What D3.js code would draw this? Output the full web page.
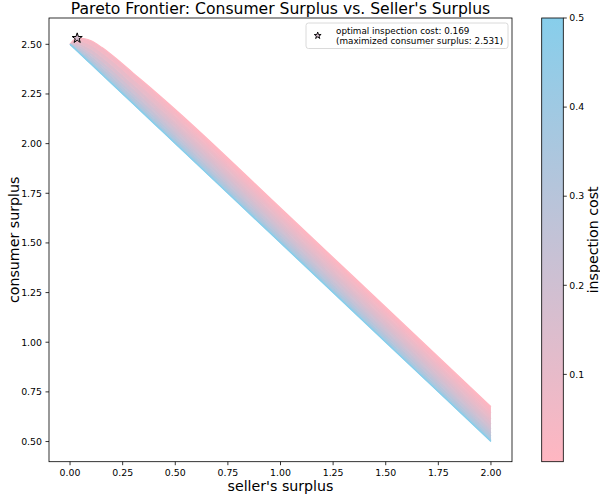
<!DOCTYPE html>
<html><head><meta charset="utf-8">
<script src="https://cdn.jsdelivr.net/npm/d3@7"></script>
<style>body{margin:0;background:#fff} svg{font-family:"DejaVu Sans",sans-serif}</style>
</head><body><svg id="c" width="600" height="501"></svg>
<script>
// ---- data ----
const sellerSurplus = [0, 0.02, 0.04, 0.07, 0.1, 0.15, 0.2, 0.3, 0.4, 0.5, 1.0, 1.5, 2.0];
const inspectionCosts = [0.002, 0.05, 0.1, 0.15, 0.2, 0.25, 0.3, 0.35, 0.4, 0.45, 0.5];
const consumerSurplus = [
  [2.500, 2.524, 2.531, 2.528, 2.518, 2.485, 2.445, 2.355, 2.265, 2.172, 1.676, 1.176, 0.676],
  [2.500, 2.516, 2.518, 2.510, 2.496, 2.460, 2.418, 2.327, 2.235, 2.140, 1.644, 1.144, 0.644],
  [2.500, 2.508, 2.506, 2.493, 2.476, 2.437, 2.394, 2.300, 2.206, 2.111, 1.614, 1.114, 0.614],
  [2.500, 2.502, 2.495, 2.478, 2.458, 2.417, 2.372, 2.277, 2.182, 2.085, 1.587, 1.087, 0.587],
  [2.500, 2.496, 2.486, 2.466, 2.443, 2.399, 2.353, 2.256, 2.160, 2.062, 1.564, 1.064, 0.564],
  [2.500, 2.491, 2.478, 2.455, 2.430, 2.384, 2.337, 2.239, 2.142, 2.043, 1.544, 1.044, 0.544],
  [2.500, 2.487, 2.472, 2.446, 2.419, 2.372, 2.323, 2.225, 2.127, 2.028, 1.528, 1.028, 0.528],
  [2.500, 2.484, 2.466, 2.439, 2.411, 2.362, 2.313, 2.214, 2.115, 2.016, 1.516, 1.016, 0.516],
  [2.500, 2.482, 2.463, 2.434, 2.405, 2.355, 2.306, 2.206, 2.107, 2.007, 1.507, 1.007, 0.507],
  [2.500, 2.480, 2.461, 2.431, 2.401, 2.351, 2.301, 2.202, 2.102, 2.002, 1.502, 1.002, 0.502],
  [2.500, 2.480, 2.460, 2.430, 2.400, 2.350, 2.300, 2.200, 2.100, 2.000, 1.500, 1.000, 0.500]
];
const optimalCost = 0.169;
const optimalSeller = 0.034;
const optimalConsumer = 2.531;
const xTicks = [0, 0.25, 0.5, 0.75, 1.0, 1.25, 1.5, 1.75, 2.0];
const yTicks = [0.5, 0.75, 1.0, 1.25, 1.5, 1.75, 2.0, 2.25, 2.5];
const cbTicks = [0.1, 0.2, 0.3, 0.4, 0.5];
const costMin = 0.002, costMax = 0.5;

// ---- layout ----
const L = 49, R = 512, T = 18, B = 461.7;
const svg = d3.select("#c");
const defs = svg.append("defs");

const xMin = d3.min(sellerSurplus), xMax = d3.max(sellerSurplus);
const yMin = d3.min(consumerSurplus.flat()), yMax = d3.max(consumerSurplus.flat());
const xp = (xMax - xMin) * 0.05, yp = (yMax - yMin) * 0.05;
const x = d3.scaleLinear().domain([xMin - xp, xMax + xp]).range([L, R]);
const y = d3.scaleLinear().domain([yMin - yp, yMax + yp]).range([B, T]);
const interp = d3.interpolateRgb("#FFB6C1", "#87CEEB");
const cNorm = d3.scaleLinear().domain([costMin, costMax]).range([0, 1]);
const color = c => interp(cNorm(c));

const clip = defs.append("clipPath").attr("id", "clipA");
clip.append("rect").attr("x", L).attr("y", T).attr("width", R - L).attr("height", B - T);
const plot = svg.append("g").attr("clip-path", "url(#clipA)");

const idx = d3.range(sellerSurplus.length);
const i1 = sellerSurplus.indexOf(1.0), i2 = sellerSurplus.indexOf(1.5);

// bands between neighbouring curves
for (let k = 0; k < inspectionCosts.length - 1; k++) {
  const up = consumerSurplus[k], lo = consumerSurplus[k + 1];
  const ax = x(sellerSurplus[i1]), ay = y(up[i1]);
  const by = y(lo[i1]);
  let dx = x(sellerSurplus[i2]) - ax, dy = y(up[i2]) - ay;
  const dl = Math.hypot(dx, dy); dx /= dl; dy /= dl;
  const nx = -dy, ny = dx;
  const proj = (by - ay) * ny;
  const g = defs.append("linearGradient").attr("id", "bg" + k)
    .attr("gradientUnits", "userSpaceOnUse")
    .attr("x1", ax).attr("y1", ay).attr("x2", ax + nx * proj).attr("y2", ay + ny * proj);
  g.append("stop").attr("offset", 0).attr("stop-color", color(inspectionCosts[k]));
  g.append("stop").attr("offset", 1).attr("stop-color", color(inspectionCosts[k + 1]));
  const area = d3.area().x(i => x(sellerSurplus[i])).y0(i => y(lo[i])).y1(i => y(up[i])).curve(d3.curveMonotoneX);
  plot.append("path").attr("d", area(idx)).attr("fill", `url(#bg${k})`);
}
// curves
const line = d3.line().curve(d3.curveMonotoneX);
inspectionCosts.forEach((c, k) => {
  plot.append("path")
    .attr("d", line(idx.map(i => [x(sellerSurplus[i]), y(consumerSurplus[k][i])])))
    .attr("fill", "none").attr("stroke", color(c)).attr("stroke-width", 1.2);
});

// star
const starPlot = d3.symbol(d3.symbolStar, 5.3 * 5.3 / 0.8908130915292852)();
svg.append("path").attr("d", starPlot)
  .attr("transform", `translate(${x(optimalSeller)},${y(optimalConsumer)})`)
  .attr("fill", color(optimalCost)).attr("stroke", "#000").attr("stroke-width", 1);

// axes
const fs = 9.4;
const gx = svg.append("g");
xTicks.forEach(t => {
  gx.append("line").attr("x1", x(t)).attr("x2", x(t)).attr("y1", B).attr("y2", B + 3.5).attr("stroke", "#000").attr("stroke-width", 0.8);
  gx.append("text").attr("x", x(t)).attr("y", B + 7).attr("dy", "0.76em").attr("text-anchor", "middle").attr("font-size", fs).text(t.toFixed(2));
});
const gy = svg.append("g");
yTicks.forEach(t => {
  gy.append("line").attr("x1", L - 3.5).attr("x2", L).attr("y1", y(t)).attr("y2", y(t)).attr("stroke", "#000").attr("stroke-width", 0.8);
  gy.append("text").attr("x", L - 7).attr("y", y(t)).attr("dy", "0.35em").attr("text-anchor", "end").attr("font-size", fs).text(t.toFixed(2));
});
svg.append("rect").attr("x", L).attr("y", T).attr("width", R - L).attr("height", B - T)
  .attr("fill", "none").attr("stroke", "#000").attr("stroke-width", 0.8);

svg.append("text").attr("x", (L + R) / 2).attr("y", 14.3).attr("text-anchor", "middle").attr("font-size", 15.6)
  .text("Pareto Frontier: Consumer Surplus vs. Seller's Surplus");
svg.append("text").attr("x", (L + R) / 2).attr("y", 486.5).attr("dy", "0.35em").attr("text-anchor", "middle").attr("font-size", 14.2)
  .text("seller's surplus");
svg.append("text").attr("transform", `translate(14,${(T + B) / 2}) rotate(-90)`).attr("dy", "0.35em").attr("text-anchor", "middle").attr("font-size", 14.2)
  .text("consumer surplus");

// legend
const lg = svg.append("g");
lg.append("rect").attr("x", 306).attr("y", 23).attr("width", 202).attr("height", 25.5).attr("rx", 2.5)
  .attr("fill", "#fff").attr("fill-opacity", 0.8).attr("stroke", "#d0d0d0").attr("stroke-width", 0.8);
const starLeg = d3.symbol(d3.symbolStar, 3.6 * 3.6 / 0.8908130915292852)();
lg.append("path").attr("d", starLeg).attr("transform", "translate(317.7,35.6)")
  .attr("fill", color(optimalCost)).attr("stroke", "#000").attr("stroke-width", 0.9);
lg.append("text").attr("x", 336).attr("y", 34).attr("font-size", 8.8).text(`optimal inspection cost: ${optimalCost.toFixed(3)}`);
lg.append("text").attr("x", 336).attr("y", 44).attr("font-size", 8.8).text(`(maximized consumer surplus: ${optimalConsumer.toFixed(3)})`);

// colorbar
const CL = 541.7, CR = 563.3;
const cb = d3.scaleLinear().domain([costMin, costMax]).range([B, T]);
const cg = defs.append("linearGradient").attr("id", "cbg").attr("x1", 0).attr("y1", 1).attr("x2", 0).attr("y2", 0);
cg.append("stop").attr("offset", 0).attr("stop-color", color(costMin));
cg.append("stop").attr("offset", 1).attr("stop-color", color(costMax));
svg.append("rect").attr("x", CL).attr("y", T).attr("width", CR - CL).attr("height", B - T)
  .attr("fill", "url(#cbg)").attr("stroke", "#000").attr("stroke-width", 0.8);
cbTicks.forEach(t => {
  svg.append("line").attr("x1", CR).attr("x2", CR + 3.5).attr("y1", cb(t)).attr("y2", cb(t)).attr("stroke", "#000").attr("stroke-width", 0.8);
  svg.append("text").attr("x", CR + 6).attr("y", cb(t)).attr("dy", "0.35em").attr("font-size", fs).text(t.toFixed(1));
});
svg.append("text").attr("transform", `translate(593,${(T + B) / 2}) rotate(-90)`).attr("dy", "0.35em").attr("text-anchor", "middle").attr("font-size", 14.2)
  .text("inspection cost");
</script></body></html>
